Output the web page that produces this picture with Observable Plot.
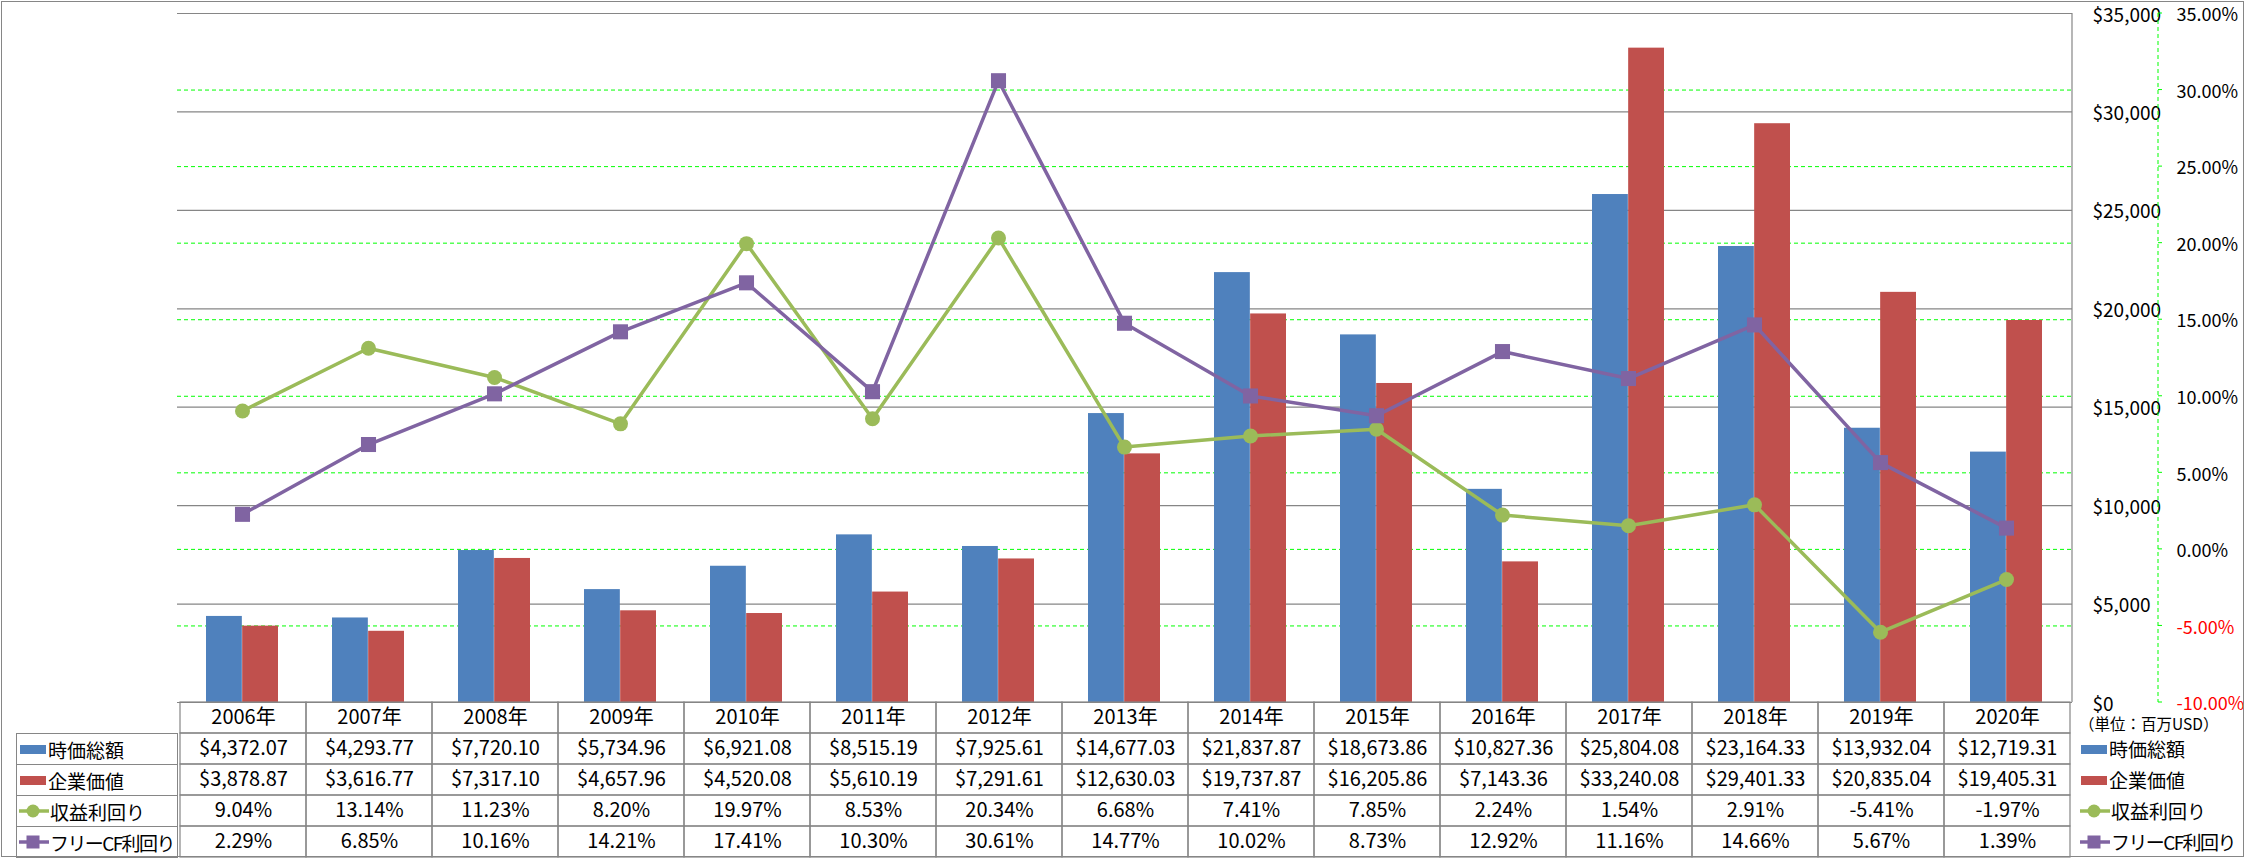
<!DOCTYPE html>
<html>
<head>
<meta charset="utf-8">
<script src="https://cdn.jsdelivr.net/npm/d3@7"></script>
<script src="https://cdn.jsdelivr.net/npm/@observablehq/plot@0.6"></script>
<style>
  html, body { margin: 0; padding: 0; background: #fff; }
  #wrap { position: relative; width: 2246px; height: 858px; overflow: hidden; font-family: "Noto Sans CJK JP", "Noto Sans", sans-serif; color: #000; }
  #wrap svg { display: block; }
  .abs { position: absolute; }
  .lcell { position: absolute; box-sizing: border-box; border: 1px solid #868686; display: flex; align-items: center; font-size: 19px; white-space: nowrap; }
  .litem { position: absolute; display: flex; align-items: center; font-size: 19px; white-space: nowrap; }
  .tight { letter-spacing: -1.6px; }
</style>
</head>
<body>
<div id="wrap"></div>
<script>
// ---- data ----
const years = ["2006年","2007年","2008年","2009年","2010年","2011年","2012年","2013年","2014年","2015年","2016年","2017年","2018年","2019年","2020年"];
const marketCap = [4372.07, 4293.77, 7720.10, 5734.96, 6921.08, 8515.19, 7925.61, 14677.03, 21837.87, 18673.86, 10827.36, 25804.08, 23164.33, 13932.04, 12719.31];
const enterpriseValue = [3878.87, 3616.77, 7317.10, 4657.96, 4520.08, 5610.19, 7291.61, 12630.03, 19737.87, 16205.86, 7143.36, 33240.08, 29401.33, 20835.04, 19405.31];
const earningsYield = [9.04, 13.14, 11.23, 8.20, 19.97, 8.53, 20.34, 6.68, 7.41, 7.85, 2.24, 1.54, 2.91, -5.41, -1.97];
const fcfYield = [2.29, 6.85, 10.16, 14.21, 17.41, 10.30, 30.61, 14.77, 10.02, 8.73, 12.92, 11.16, 14.66, 5.67, 1.39];
const seriesNames = ["時価総額", "企業価値", "収益利回り", "フリーCF利回り"];
const dollarTicks = [0, 5000, 10000, 15000, 20000, 25000, 30000, 35000];
const pctTicks = [-10, -5, 0, 5, 10, 15, 20, 25, 30, 35];
const unitLabel = "（単位：百万USD）";

const colors = { mc: "#4F81BD", ev: "#C0504D", ey: "#9BBB59", fcf: "#8064A2" };
const grayLine = "#868686";
const greenGrid = "#00FF00";

// secondary axis (%) mapped onto primary ($) scale
const pMin = -10, pMax = 35, dMax = 35000;
const pctToD = p => (p - pMin) / (pMax - pMin) * dMax;

const rows = years.map((y, i) => ({
  year: y, mc: marketCap[i], ev: enterpriseValue[i], ey: earningsYield[i], fcf: fcfYield[i]
}));

const W = 2246;
const mL = 177, mR = 174;
const fmtD = d3.format(",.2f");
const fmtAxisD = d => "$" + d3.format(",")(d);
const fmtP = p => p.toFixed(2) + "%";
const FONT = "'Noto Sans CJK JP', 'Noto Sans', sans-serif";

const wrap = document.getElementById("wrap");

// ---- main chart ----
const step = (W - mL - mR) / years.length;
const half = step * (1 - 0.4275) / 2;

const axisMark = (index, scales, values, dims) => {
  const g = d3.create("svg:g");
  const x0 = dims.width - dims.marginRight;
  g.append("line").attr("x1", x0).attr("x2", x0)
    .attr("y1", dims.marginTop).attr("y2", dims.height - dims.marginBottom)
    .attr("stroke", grayLine).attr("stroke-width", 1.2);
  const ax = x0 + 86;
  g.append("line").attr("x1", ax).attr("x2", ax)
    .attr("y1", scales.y(dMax)).attr("y2", scales.y(0))
    .attr("stroke", greenGrid).attr("stroke-dasharray", "4,3");
  for (const p of pctTicks) {
    const yy = scales.y(pctToD(p));
    g.append("line").attr("x1", ax).attr("x2", ax + 4).attr("y1", yy).attr("y2", yy)
      .attr("stroke", greenGrid);
  }
  return g.node();
};

const chart = Plot.plot({
  width: W,
  height: 703,
  marginTop: 13,
  marginBottom: 1,
  marginLeft: mL,
  marginRight: mR,
  style: { fontFamily: FONT, fontSize: "19px", overflow: "visible", background: "transparent" },
  x: { type: "band", domain: years, paddingInner: 0.4275, paddingOuter: 0.21375, axis: null },
  y: { domain: [0, dMax], axis: null },
  marks: [
    Plot.ruleY(pctTicks.filter(p => p > pMin && p < pMax).map(pctToD), { stroke: greenGrid, strokeDasharray: "4,3", strokeWidth: 1 }),
    Plot.ruleY(dollarTicks, { stroke: grayLine, strokeWidth: 1.2 }),
    Plot.barY(rows, { x: "year", y: "mc", fill: colors.mc, insetRight: half }),
    Plot.barY(rows, { x: "year", y: "ev", fill: colors.ev, insetLeft: half }),
    Plot.line(rows, { x: "year", y: d => pctToD(d.ey), stroke: colors.ey, strokeWidth: 3.5 }),
    Plot.dot(rows, { x: "year", y: d => pctToD(d.ey), fill: colors.ey, r: 7.5, stroke: null }),
    Plot.line(rows, { x: "year", y: d => pctToD(d.fcf), stroke: colors.fcf, strokeWidth: 3.5 }),
    Plot.dot(rows, { x: "year", y: d => pctToD(d.fcf), fill: colors.fcf, symbol: "square", r: 8.5, stroke: null }),
    Plot.text(dollarTicks, { y: d => d, text: fmtAxisD, frameAnchor: "right", dx: 20, dy: 2, textAnchor: "start", fill: "#000", fontSize: 19 }),
    Plot.text(pctTicks, { y: pctToD, text: fmtP, frameAnchor: "right", dx: 104, dy: 2, textAnchor: "start", fill: p => p < 0 ? "#FF0000" : "#000", fontSize: 18 }),
    axisMark
  ]
});
chart.style.position = "absolute";
chart.style.left = "0px";
chart.style.top = "0px";
wrap.appendChild(chart);

// ---- data table ----
const rowKeys = ["head", ...seriesNames];
const cells = [];
for (const r of rows) {
  cells.push({ year: r.year, row: "head", label: r.year });
  cells.push({ year: r.year, row: seriesNames[0], label: "$" + fmtD(r.mc) });
  cells.push({ year: r.year, row: seriesNames[1], label: "$" + fmtD(r.ev) });
  cells.push({ year: r.year, row: seriesNames[2], label: fmtP(r.ey) });
  cells.push({ year: r.year, row: seriesNames[3], label: fmtP(r.fcf) });
}
const TH = 156;
const table = Plot.plot({
  width: W,
  height: TH,
  marginTop: 0,
  marginBottom: 1,
  marginLeft: mL,
  marginRight: mR,
  style: { fontFamily: FONT, fontSize: "20px", overflow: "visible", background: "transparent" },
  x: { type: "band", domain: years, padding: 0, axis: null },
  y: { type: "band", domain: rowKeys, padding: 0, axis: null },
  marks: [
    Plot.cell(cells, { x: "year", y: "row", fill: "none", stroke: grayLine, strokeWidth: 1.2, inset: 0 }),
    Plot.text(cells, { x: "year", y: "row", text: "label", fill: "#000", fontSize: 20 })
  ]
});
table.style.position = "absolute";
table.style.left = "0px";
table.style.top = "702px";
wrap.appendChild(table);

// ---- legend keys (left column + right legend) ----
const rowH = (TH - 1) / rowKeys.length;
function keySvg(i) {
  const c = [colors.mc, colors.ev, colors.ey, colors.fcf][i];
  if (i < 2) return `<svg width="30" height="12"><rect x="2" y="2" width="26" height="9" fill="${c}"/></svg>`;
  const m = i === 2
    ? `<circle cx="15" cy="7" r="6.5" fill="${c}"/>`
    : `<rect x="8.5" y="0.5" width="13" height="13" fill="${c}"/>`;
  return `<svg width="32" height="14"><line x1="1" x2="31" y1="7" y2="7" stroke="${c}" stroke-width="3.5"/>${m}</svg>`;
}
seriesNames.forEach((name, i) => {
  const top = 702 + rowH * (i + 1);
  const cls = i === 3 ? "tight" : "";
  const d = document.createElement("div");
  d.className = "lcell";
  d.style.left = "16px";
  d.style.top = top + "px";
  d.style.width = (mL - 16 + 1) + "px";
  d.style.height = (rowH + 1) + "px";
  d.innerHTML = `<span style="margin-left:1px;display:inline-flex">${keySvg(i)}</span><span class="${cls}">${name}</span>`;
  wrap.appendChild(d);

  const l = document.createElement("div");
  l.className = "litem";
  l.style.left = "2079px";
  l.style.top = (top + rowH / 2 - 12) + "px";
  l.style.height = "24px";
  l.innerHTML = `<span style="display:inline-flex">${keySvg(i)}</span><span class="${cls}">${name}</span>`;
  wrap.appendChild(l);
});
const unit = document.createElement("div");
unit.className = "abs";
unit.style.left = "2079px";
unit.style.top = "716px";
unit.style.fontSize = "15.5px";
unit.style.lineHeight = "15px";
unit.style.whiteSpace = "nowrap";
unit.textContent = unitLabel;
wrap.appendChild(unit);

// outer border
const border = document.createElement("div");
border.className = "abs";
border.style.left = "1px";
border.style.top = "1px";
border.style.width = "2243px";
border.style.height = "856px";
border.style.boxSizing = "border-box";
border.style.border = "1.5px solid " + grayLine;
border.style.pointerEvents = "none";
wrap.appendChild(border);
</script>
</body>
</html>
